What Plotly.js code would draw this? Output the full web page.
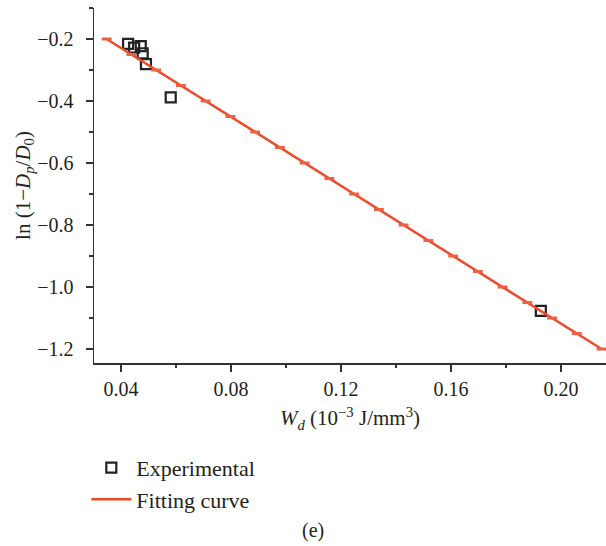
<!DOCTYPE html>
<html>
<head>
<meta charset="utf-8">
<script src="https://cdn.plot.ly/plotly-3.0.1.min.js"></script>
<style>html,body{margin:0;padding:0;background:#fff;}#chart{width:606px;height:546px;}</style>
</head>
<body>
<div id="chart"></div>
<script>
// Experimental data (W_d in 10^-3 J/mm^3, ln(1 - Dp/D0))
const expX = [0.0426, 0.0448, 0.0472, 0.0479, 0.0491, 0.0581, 0.1927];
const expY = [-0.216, -0.228, -0.223, -0.246, -0.281, -0.388, -1.077];

// Fitting curve points
const fitX = [0.0348, 0.0438, 0.0528, 0.0618, 0.0708, 0.0798, 0.0888, 0.0978, 0.1068, 0.1158, 0.1248,
              0.1338, 0.1428, 0.1518, 0.1608, 0.1698, 0.1788, 0.1878, 0.1968, 0.2058, 0.2148];
const fitY = [-0.20, -0.25, -0.30, -0.35, -0.40, -0.45, -0.50, -0.55, -0.60, -0.65, -0.70,
              -0.75, -0.80, -0.85, -0.90, -0.95, -1.00, -1.05, -1.10, -1.15, -1.20];

const xTicks = [0.04, 0.08, 0.12, 0.16, 0.20];
const xTickText = ['0.04', '0.08', '0.12', '0.16', '0.20'];
const yTicks = [-0.2, -0.4, -0.6, -0.8, -1.0, -1.2];
const yTickText = ['\u22120.2', '\u22120.4', '\u22120.6', '\u22120.8', '\u22121.0', '\u22121.2'];

const FONT = 'Liberation Serif, Times New Roman, serif';
const RED = '#ee4a2b';
const AX = '#333333';
const TXT = '#231f20';

const traces = [
  {
    x: expX, y: expY, type: 'scatter', mode: 'markers', name: 'Experimental',
    marker: {symbol: 'square-open', size: 10, color: '#222222', line: {width: 2.2, color: '#222222'}}
  },
  {
    x: fitX, y: fitY, type: 'scatter', mode: 'lines', name: 'Fitting curve',
    line: {color: RED, width: 2.5}
  },
  {
    x: fitX, y: fitY, type: 'scatter', mode: 'markers', name: 'Fitting curve points',
    showlegend: false,
    marker: {symbol: 'line-ew', size: 7, color: RED, line: {width: 3, color: '#f0603f'}}
  }
];

const layout = {
  width: 606, height: 546,
  margin: {l: 94, r: 0, t: 8, b: 183},
  paper_bgcolor: '#fff', plot_bgcolor: '#fff',
  font: {family: FONT, color: TXT, size: 20},
  showlegend: true,
  legend: {
    x: -0.015, y: -0.236, xanchor: 'left', yanchor: 'top',
    font: {family: FONT, size: 22, color: TXT},
    traceorder: 'normal',
    bgcolor: 'rgba(0,0,0,0)', itemwidth: 40
  },
  xaxis: {
    range: [0.0302, 0.2164],
    tickvals: xTicks, ticktext: xTickText,
    showgrid: false, zeroline: false,
    showline: true, linecolor: AX, linewidth: 1.5,
    ticks: 'outside', ticklen: 7, tickwidth: 1.2, tickcolor: AX,
    minor: {dtick: 0.02, ticks: 'outside', ticklen: 3.5, tickwidth: 1.2, tickcolor: AX, showgrid: false},
    tickfont: {family: FONT, size: 20, color: TXT},
    title: {text: '<i>W</i><sub><i>d</i></sub> (10<sup>\u22123</sup> J/mm<sup>3</sup>)', font: {family: FONT, size: 21, color: TXT}, standoff: 12}
  },
  yaxis: {
    range: [-1.245, -0.1],
    tickvals: yTicks, ticktext: yTickText,
    showgrid: false, zeroline: false,
    showline: true, linecolor: AX, linewidth: 1.5,
    ticks: 'outside', ticklen: 7, tickwidth: 1.2, tickcolor: AX,
    minor: {dtick: 0.1, ticks: 'outside', ticklen: 3.5, tickwidth: 1.2, tickcolor: AX, showgrid: false},
    tickfont: {family: FONT, size: 20, color: TXT},
    ticklabelstandoff: 8,
    title: {text: 'ln (1\u2212<i>D</i><sub><i>p</i></sub>/<i>D</i><sub>0</sub>)', font: {family: FONT, size: 21, color: TXT}, standoff: 0}
  },
  annotations: [
    {text: '(e)', xref: 'paper', yref: 'paper', x: 0.428, y: -0.473, xanchor: 'center', yanchor: 'middle',
     showarrow: false, font: {family: FONT, size: 20, color: TXT}}
  ]
};

Plotly.newPlot('chart', traces, layout, {displayModeBar: false, staticPlot: true});
</script>
</body>
</html>
